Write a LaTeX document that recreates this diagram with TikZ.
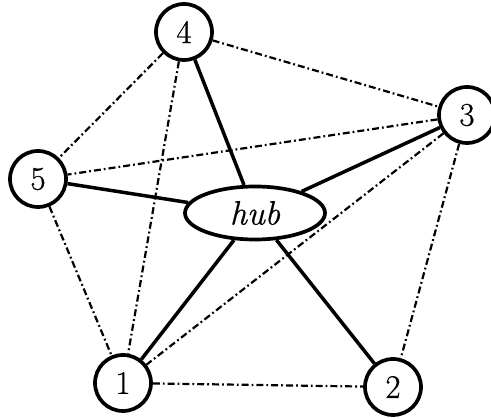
\documentclass[tikz,border=0pt]{standalone}
\usepackage{fontspec}
\usetikzlibrary{shapes.geometric}
% slightly heavier Latin Modern for the labels
\newfontfamily\labelfont{Latin Modern Roman}[FakeBold=0.6]
\begin{document}
\begin{tikzpicture}[x=1pt,y=-1pt,
  vertex/.style={circle,draw,line width=3.7pt,minimum size=56pt,inner sep=0pt,
    font=\labelfont\fontsize{33}{38}\selectfont},
  hubnode/.style={ellipse,draw,line width=3.7pt,minimum width=140pt,minimum height=53pt,
    inner sep=0pt,font=\labelfont\fontsize{34}{40}\selectfont\itshape},
  spoke/.style={line width=3.5pt},
  rim/.style={line width=2.2pt,dash pattern=on 7pt off 3pt on 1.8pt off 3pt}]
\useasboundingbox (0,0) rectangle (491,419);
\node[hubnode] (hub) at (255,213) {hub};
\node[vertex] (n4) at (184,32) {4};
\node[vertex] (n3) at (467,115) {3};
\node[vertex] (n5) at (38,179) {5};
\node[vertex] (n1) at (123,383) {1};
\node[vertex] (n2) at (393,387) {2};
% dash-dotted outer connections
\draw[rim] (n4) -- (n3);
\draw[rim] (n4) -- (n5);
\draw[rim] (n4) -- (n1);
\draw[rim] (n3) -- (n5);
\draw[rim] (n3) -- (n1);
\draw[rim] (n3) -- (n2);
\draw[rim] (n5) -- (n1);
\draw[rim] (n1) -- (n2);
% solid spokes to the hub
\draw[spoke] (hub) -- (n4);
\draw[spoke] (hub) -- (n3);
\draw[spoke] (hub) -- (n5);
\draw[spoke] (hub) -- (n1);
\draw[spoke] (hub) -- (n2);
\end{tikzpicture}
\end{document}
